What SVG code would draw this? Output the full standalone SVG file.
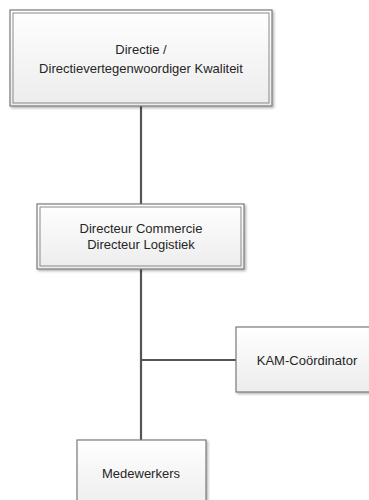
<svg xmlns="http://www.w3.org/2000/svg" width="369" height="500" viewBox="0 0 369 500">
<defs>
<linearGradient id="g" x1="0" y1="0" x2="0" y2="1">
<stop offset="0" stop-color="#ffffff"/>
<stop offset="1" stop-color="#ececec"/>
</linearGradient>
<filter id="sh" x="-10%" y="-10%" width="125%" height="130%">
<feDropShadow dx="1.5" dy="1.5" stdDeviation="1" flood-color="#000" flood-opacity="0.3"/>
</filter>
<style>
.box{fill:url(#g);stroke:#7a7a7a;stroke-width:1.2;filter:url(#sh)}
.inner{fill:none;stroke:#8a8a8a;stroke-width:1}
.t{font-family:"Liberation Sans",Arial,sans-serif;font-size:13px;fill:#262626;text-anchor:middle}
.c{stroke:#555;stroke-width:2.2;fill:none}
</style>
</defs>
<rect width="369" height="500" fill="#fff"/>
<g id="connectors">
<line class="c" x1="141" y1="106" x2="141" y2="205"/>
<line class="c" x1="141" y1="269" x2="141" y2="440"/>
<line class="c" x1="141" y1="360" x2="236" y2="360"/>
</g>
<g id="directie">
<rect class="box" x="10" y="10" width="262" height="96"/>
<rect class="inner" x="13" y="13" width="256" height="90"/>
<text class="t" x="141" y="54">Directie /</text>
<text class="t" x="141" y="73">Directievertegenwoordiger Kwaliteit</text>
</g>
<g id="directeur">
<rect class="box" x="37" y="204" width="207" height="65"/>
<rect class="inner" x="40" y="207" width="201" height="59"/>
<text class="t" x="141" y="233">Directeur Commercie</text>
<text class="t" x="141" y="249">Directeur Logistiek</text>
</g>
<g id="kam">
<rect class="box" x="236" y="327" width="140" height="65"/>
<text class="t" x="307" y="365">KAM-Coördinator</text>
</g>
<g id="medewerkers">
<rect class="box" x="77" y="440" width="129" height="70"/>
<text class="t" x="141" y="478">Medewerkers</text>
</g>
</svg>
